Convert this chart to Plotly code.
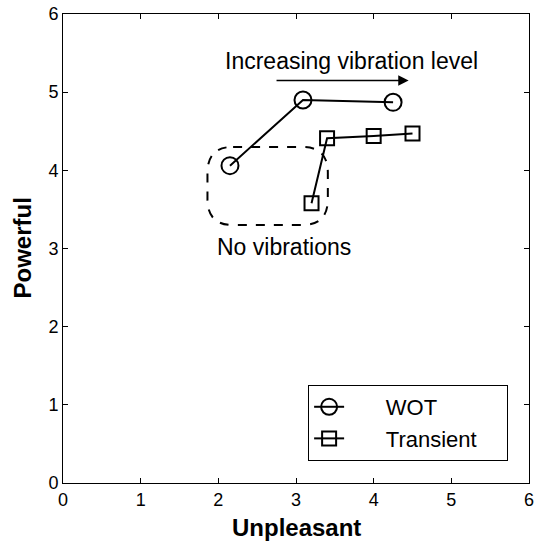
import plotly.graph_objects as go

wot_x = [2.15, 3.09, 4.25]
wot_y = [4.06, 4.90, 4.87]
tr_x = [3.20, 3.40, 4.00, 4.50]
tr_y = [3.58, 4.41, 4.44, 4.47]

x_ticks = [0, 1, 2, 3, 4, 5, 6]
y_ticks = [0, 1, 2, 3, 4, 5, 6]

FONT = "Liberation Sans, Arial, sans-serif"
NB = "\u00a0"

fig = go.Figure()
fig.add_trace(go.Scatter(x=wot_x, y=wot_y, mode="lines+markers", name=NB * 6 + "WOT",
                         line=dict(color="black", width=2),
                         marker=dict(symbol="circle-open", size=17, color="black", line=dict(width=2))))
fig.add_trace(go.Scatter(x=tr_x, y=tr_y, mode="lines+markers", name=NB * 6 + "Transient" + NB * 4,
                         line=dict(color="black", width=2),
                         marker=dict(symbol="square-open", size=14, color="black", line=dict(width=2))))

# rounded dashed box
x0, x1, y0, y1, rx, ry = 1.86, 3.41, 3.30, 4.30, 0.33, 0.33
path = (f"M {x0+rx},{y1} L {x1-rx},{y1} Q {x1},{y1} {x1},{y1-ry} "
        f"L {x1},{y0+ry} Q {x1},{y0} {x1-rx},{y0} L {x0+rx},{y0} "
        f"Q {x0},{y0} {x0},{y0+ry} L {x0},{y1-ry} Q {x0},{y1} {x0+rx},{y1} Z")
fig.add_shape(type="path", path=path, xref="x", yref="y",
              line=dict(color="black", width=2, dash="dash"))

fig.add_annotation(x=4.45, y=5.15, ax=2.73, ay=5.15, xref="x", yref="y", axref="x", ayref="y",
                   text="", showarrow=True, arrowhead=2, arrowsize=1.3, arrowwidth=1.6, arrowcolor="black")
fig.add_annotation(x=3.72, y=5.4, xref="x", yref="y", text="Increasing vibration level",
                   showarrow=False, font=dict(size=23, color="black", family=FONT))
fig.add_annotation(x=2.84, y=3.02, xref="x", yref="y", text="No vibrations",
                   showarrow=False, font=dict(size=23, color="black", family=FONT))

# axis titles
fig.add_annotation(x=0.5, y=0, xref="paper", yref="paper", xanchor="center", yanchor="middle",
                   yshift=-44, text="<b>Unpleasant</b>", showarrow=False,
                   font=dict(size=24, color="black", family=FONT))
fig.add_annotation(x=0, y=0.5, xref="paper", yref="paper", xanchor="center", yanchor="middle",
                   xshift=-41, textangle=-90, text="<b>Powerful</b>", showarrow=False,
                   font=dict(size=24, color="black", family=FONT))

axis_common = dict(range=[0, 6], showgrid=False, zeroline=False, showline=True, linecolor="black",
                   linewidth=1, mirror="ticks", ticks="inside", ticklen=5, tickcolor="black",
                   automargin=False,
                   tickfont=dict(size=18, color="black", family=FONT))
fig.update_xaxes(**axis_common, tickvals=x_ticks)
fig.update_yaxes(**axis_common, tickvals=y_ticks)

fig.update_layout(width=541, height=543, margin=dict(l=63, r=12, t=14, b=60),
                  plot_bgcolor="white", paper_bgcolor="white",
                  legend=dict(x=0.526, y=0.209, xanchor="left", yanchor="top",
                              bordercolor="black", borderwidth=1, bgcolor="white",
                              font=dict(size=22, color="black", family=FONT),
                              itemwidth=30, tracegroupgap=0))
fig.write_html("out.html", config={"displayModeBar": False},
               post_script="document.body.style.margin='0px';")
